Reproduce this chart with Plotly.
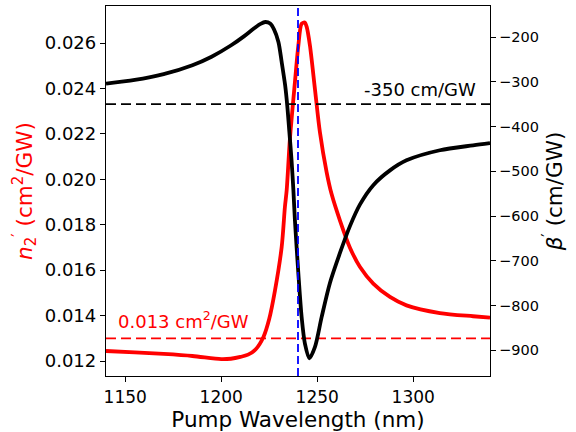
import plotly.graph_objects as go

# Pump wavelength (nm) and n2' (cm^2/GW)
wl_n2 = [1140, 1155, 1170, 1185, 1200, 1205, 1210, 1214, 1218, 1222, 1225, 1228,
         1231.5, 1233.2, 1234.1, 1235.8, 1238.4, 1240.2, 1241.9, 1243.5, 1244.5,
         1246.2, 1248.8, 1251.4, 1254.9, 1257.5, 1262, 1267, 1272.3, 1279.2,
         1287.9, 1296.5, 1313.9, 1331.2, 1340]
n2 = [0.01244, 0.01238, 0.01231, 0.01222, 0.01208, 0.01210, 0.01218, 0.01228,
      0.01252, 0.01306, 0.01385, 0.01510, 0.01702, 0.01880, 0.01951, 0.02179,
      0.02428, 0.02590, 0.02685, 0.02690, 0.02672, 0.02590, 0.02399, 0.02208,
      0.02032, 0.01935, 0.01815, 0.01700, 0.01614, 0.01541, 0.01482, 0.01445,
      0.01411, 0.01397, 0.01391]

# Pump wavelength (nm) and beta' (cm/GW)
wl_beta = [1140, 1155, 1170, 1185, 1195, 1205, 1212, 1217, 1220.5, 1223,
           1225.5, 1227.5, 1229.8, 1231.5, 1233.3, 1234.4, 1235.5, 1236.7,
           1237.6, 1238.4, 1240.2, 1241.9, 1243.6, 1245.9, 1248.8, 1252.3,
           1256.6, 1261.9, 1267.1, 1272.3, 1279.2, 1287.9, 1296.5, 1313.9,
           1331.2, 1340]
beta = [-304, -296, -283, -263, -244, -219, -198, -181, -170.5, -166.5,
        -170, -183, -211, -256, -308, -353, -412, -479,
        -542, -610, -729, -826, -885, -918, -893, -826,
        -750, -682, -622, -574, -531, -498, -475.5, -453,
        -442, -437]

beta_ref = -350        # cm/GW
n2_ref = 0.013         # cm^2/GW
pump_wl = 1240         # nm

n2_ticks = [0.012, 0.014, 0.016, 0.018, 0.020, 0.022, 0.024, 0.026]
beta_ticks = [-200, -300, -400, -500, -600, -700, -800, -900]
wl_ticks = [1150, 1200, 1250, 1300]

FONT = "DejaVu Sans"

fig = go.Figure()
fig.add_trace(go.Scatter(x=wl_n2, y=n2, mode="lines", yaxis="y",
                         line=dict(color="red", width=3.8, shape="spline", smoothing=0.8),
                         showlegend=False))
fig.add_trace(go.Scatter(x=wl_beta, y=beta, mode="lines", yaxis="y2",
                         line=dict(color="black", width=3.8, shape="spline", smoothing=0.8),
                         showlegend=False))

# reference lines
fig.add_shape(type="line", xref="x domain", yref="y", x0=0, x1=1, y0=n2_ref, y1=n2_ref,
              line=dict(color="red", width=1.8, dash="10px,5px"), layer="below")
fig.add_shape(type="line", xref="x domain", yref="y2", x0=0, x1=1, y0=beta_ref, y1=beta_ref,
              line=dict(color="black", width=1.8, dash="10px,5px"), layer="above")
fig.add_shape(type="line", xref="x", yref="paper", x0=pump_wl, x1=pump_wl, y0=0, y1=1,
              line=dict(color="blue", width=1.8, dash="8px,4px"), layer="above")

fig.add_annotation(xref="x domain", yref="y2", x=0.968, y=beta_ref, text="-350 cm/GW",
                   showarrow=False, xanchor="right", yanchor="bottom", yshift=2,
                   font=dict(family=FONT, size=18, color="black"))
fig.add_annotation(xref="x domain", yref="y", x=0.026, y=n2_ref,
                   text="0.013 cm<sup>2</sup>/GW",
                   showarrow=False, xanchor="left", yanchor="bottom", yshift=4,
                   font=dict(family=FONT, size=18, color="red"))

fig.update_layout(
    width=576, height=432,
    margin=dict(l=106, r=85.5, t=5.7, b=56.3),
    paper_bgcolor="white", plot_bgcolor="white",
    font=dict(family=FONT, color="black"),
    xaxis=dict(range=[1140, 1340], tickvals=wl_ticks, ticks="outside", ticklen=5,
               tickwidth=1.2, tickcolor="black", showgrid=False, zeroline=False,
               showline=True, linecolor="black", linewidth=1.3, mirror=True,
               tickfont=dict(size=17), automargin=False,
               title=dict(text="Pump Wavelength (nm)", font=dict(size=21.5), standoff=6)),
    yaxis=dict(range=[0.01134, 0.02763], tickvals=n2_ticks, tickformat=".3f",
               ticks="outside", ticklen=5, tickwidth=1.2, tickcolor="black",
               showgrid=False, zeroline=False, showline=True, linecolor="black",
               linewidth=1.3, tickfont=dict(size=18), automargin=False,
               title=dict(text="<i>n</i><sub>2</sub><sup>′</sup> (cm<sup>2</sup>/GW)",
                          font=dict(size=21.5, color="red"), standoff=6)),
    yaxis2=dict(range=[-957.4, -130.7], tickvals=beta_ticks, overlaying="y", side="right",
                ticks="outside", ticklen=5, tickwidth=1.2, tickcolor="black",
                showgrid=False, zeroline=False, showline=True, linecolor="black",
                linewidth=1.3, tickfont=dict(size=14.5), automargin=False,
                title=dict(text="<i>β</i><sup>′</sup> (cm/GW)",
                           font=dict(size=21.5, color="black"), standoff=9)),
)

fig.write_html("out.html", config={"displayModeBar": False},
               post_script="document.body.style.margin='0';")
